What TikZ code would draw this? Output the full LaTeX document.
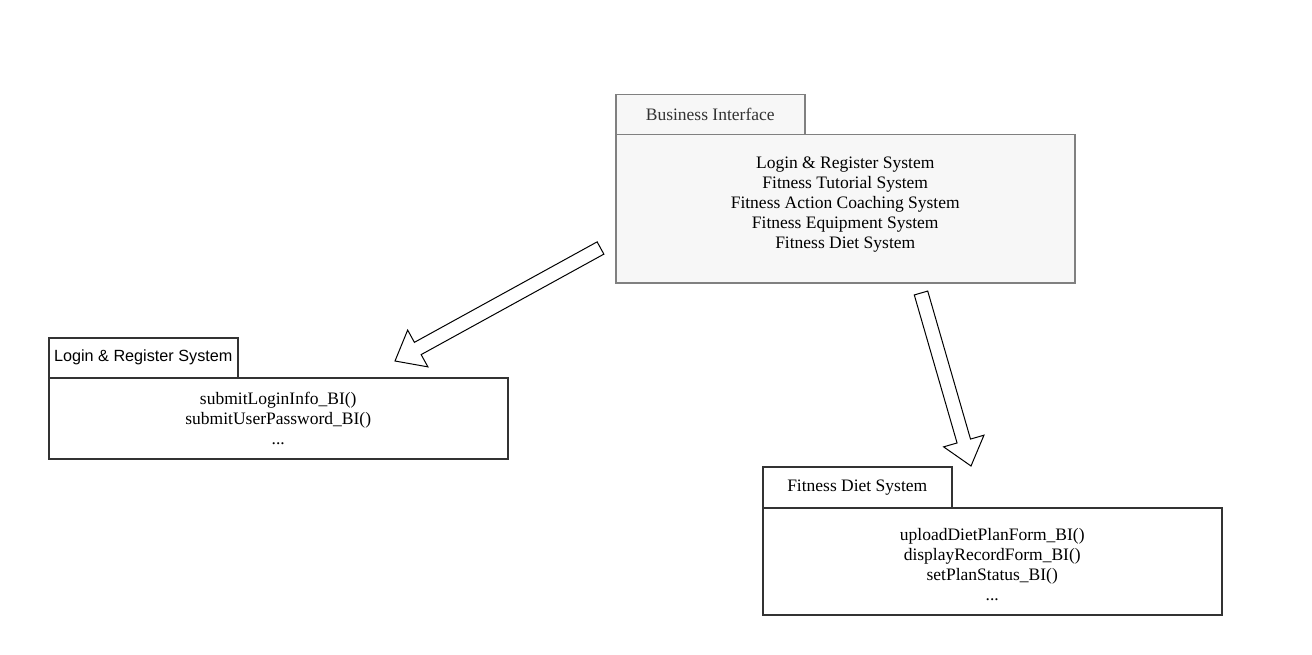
\documentclass[tikz,border=0pt]{standalone}
\usepackage{fontspec}
\setmainfont{Liberation Serif}
\newfontfamily\arialfont{Liberation Sans}
\usepackage{tikz}
\usetikzlibrary{positioning,calc}

\definecolor{pkggray}{HTML}{808080}
\definecolor{pkgfill}{HTML}{F7F7F7}
\definecolor{pkgdark}{HTML}{333333}

\tikzset{
  pkgtab/.style = {draw, line width = 1.5pt, minimum width = 189pt, minimum height = 40pt, anchor = north west, inner sep = 0pt},
  pkgbody/.style = {draw, line width = 1.5pt, anchor = north west, inner sep = 0pt},
  pkgtext/.style = {align = center, inner sep = 0pt, font = \fontsize{17.5}{20}\selectfont},
  hollowarr/.style = {draw = black, fill = white, line width = 1pt, line join = miter}
}

\newcommand{\blockarrow}[2]{%
  \coordinate (bh) at ($(#2)!26pt!(#1)$);
  \draw[hollowarr] ($(#1)!7pt!90:(#2)$) -- ($(bh)!7pt!90:(#2)$) -- ($(bh)!21pt!90:(#2)$) -- (#2)
    -- ($(bh)!21pt!-90:(#2)$) -- ($(bh)!7pt!-90:(#2)$) -- ($(#1)!7pt!-90:(#2)$) -- cycle;
}

\begin{document}
\begin{tikzpicture}[x = 1pt, y = -1pt]
\useasboundingbox[fill = white] (0,0) rectangle (1312,655);

% Business Interface
\node[pkgtab, draw = pkggray, fill = pkgfill, text = pkgdark, font = \fontsize{17.5}{20}\selectfont] (bitab) at (615,94) {Business Interface};
\node[pkgbody, draw = pkggray, fill = pkgfill, minimum width = 459pt, minimum height = 148pt] (bibody) at (615,134) {};
\node[pkgtext, below = 23pt of bibody.north] (bitext) {Login \& Register System\\Fitness Tutorial System\\Fitness Action Coaching System\\Fitness Equipment System\\Fitness Diet System};

% Login & Register System
\node[pkgtab, draw = pkgdark, font = \arialfont\fontsize{16.2}{18}\selectfont] (lrtab) at (48,337) {Login \& Register System};
\node[pkgbody, draw = pkgdark, minimum width = 459pt, minimum height = 81pt] (lrbody) at (48,377) {};
\node[pkgtext, below = 15pt of lrbody.north] (lrtext) {submitLoginInfo\_BI()\\submitUserPassword\_BI()\\...};

% Fitness Diet System
\node[pkgtab, draw = pkgdark, minimum height = 41pt, font = \fontsize{17.5}{20}\selectfont] (fdtab) at (762,466) {Fitness Diet System};
\node[pkgbody, draw = pkgdark, minimum width = 459pt, minimum height = 107pt] (fdbody) at (762,507) {};
\node[pkgtext, below = 21pt of fdbody.north] (fdtext) {uploadDietPlanForm\_BI()\\displayRecordForm\_BI()\\setPlanStatus\_BI()\\...};

% arrows
\coordinate (a1s) at (600.5,248);
\coordinate (a1e) at (395,361);
\coordinate (a2s) at (921,293);
\coordinate (a2e) at (971,466);
\blockarrow{a1s}{a1e}
\blockarrow{a2s}{a2e}
\end{tikzpicture}
\end{document}
